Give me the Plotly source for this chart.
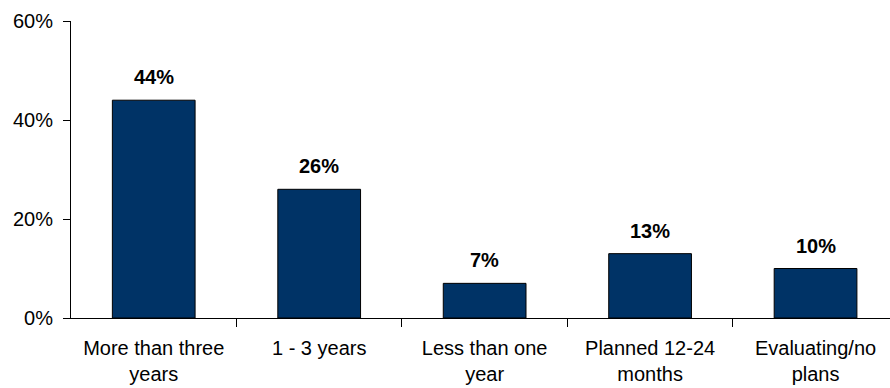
import plotly.graph_objects as go

categories = ["More than three<br>years", "1 - 3 years", "Less than one<br>year", "Planned 12-24<br>months", "Evaluating/no<br>plans"]
values = [44, 26, 7, 13, 10]
y_ticks = [0, 20, 40, 60]
y_tick_labels = ["0%", "20%", "40%", "60%"]

FONT = "Liberation Sans, Arial"

fig = go.Figure()
fig.add_trace(go.Bar(
    x=list(range(len(categories))), y=values, width=0.5,
    marker=dict(color="#003366", line=dict(color="#000000", width=1)),
    hoverinfo="skip",
))
for i, v in enumerate(values):
    fig.add_annotation(x=i, y=v, text=f"<b>{v}%</b>", showarrow=False,
                       yanchor="bottom", yshift=10,
                       font=dict(family=FONT, size=20, color="#000000"))

fig.update_layout(
    width=890, height=388,
    margin=dict(l=71, r=0, t=21, b=70),
    paper_bgcolor="white", plot_bgcolor="white",
    showlegend=False,
    font=dict(family=FONT, size=20, color="#000000"),
)
fig.update_xaxes(
    range=[-0.5, 4.45],
    tickmode="array", tickvals=list(range(len(categories))), ticktext=categories,
    showline=True, linecolor="#000000", linewidth=1,
    ticks="", showgrid=False, zeroline=False,
    tickfont=dict(size=20), ticklabelstandoff=12,
    minor=dict(tickmode="array", tickvals=[i + 0.5 for i in range(len(categories) - 1)],
               ticks="outside", ticklen=8, tickcolor="#000000", tickwidth=1, showgrid=False),
)
fig.update_yaxes(
    range=[0, 60], tickmode="array", tickvals=y_ticks, ticktext=y_tick_labels,
    showline=True, linecolor="#000000", linewidth=1,
    ticks="outside", ticklen=7, tickcolor="#000000",
    showgrid=False, zeroline=False, tickfont=dict(size=20), ticklabelstandoff=6,
)
fig.write_html("out.html")
